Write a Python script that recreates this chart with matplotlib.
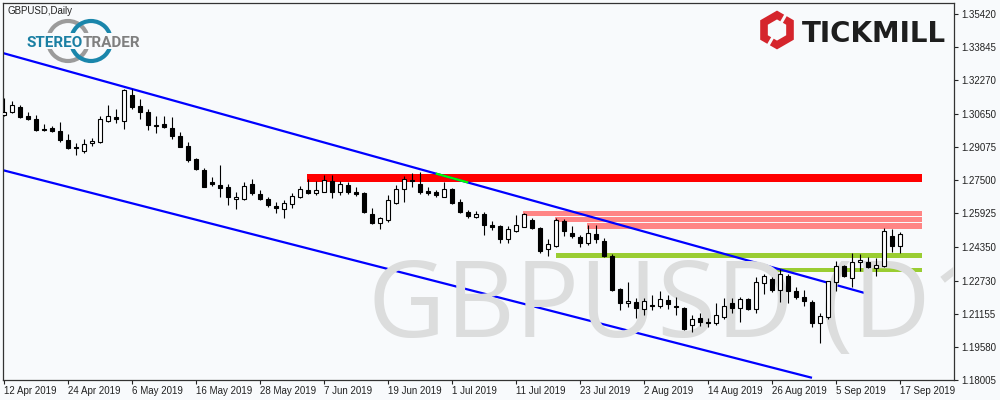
import numpy as np
import pandas as pd
import matplotlib
matplotlib.use('Agg')
import matplotlib.pyplot as plt
from matplotlib.patches import Circle, Rectangle

# Daily bars, 12 Apr 2019 .. 17 Sep 2019 (weekdays)
dates = pd.bdate_range('2019-04-12', '2019-09-17')

opens = [1.3061, 1.3077, 1.3099, 1.3056, 1.3041, 1.2993, 1.3001, 1.2985, 1.2942, 1.2907,
         1.2891, 1.2928, 1.2931, 1.3034, 1.3052, 1.3031, 1.3156, 1.3104, 1.3077, 1.3014,
         1.3018, 1.2999, 1.2961, 1.2914, 1.2852, 1.2799, 1.2742, 1.2728, 1.2718, 1.2660,
         1.2660, 1.2733, 1.2685, 1.2661, 1.2628, 1.2612, 1.2636, 1.2672, 1.2704, 1.2689,
         1.2696, 1.2747, 1.2693, 1.2728, 1.2696, 1.2689, 1.2590, 1.2545, 1.2561, 1.2641,
         1.2707, 1.2752, 1.2733, 1.2699, 1.2695, 1.2672, 1.2707, 1.2648, 1.2601, 1.2574,
         1.2590, 1.2539, 1.2533, 1.2469, 1.2510, 1.2530, 1.2561, 1.2522, 1.2422, 1.2437,
         1.2557, 1.2498, 1.2479, 1.2450, 1.2493, 1.2461, 1.2390, 1.2233, 1.2165, 1.2171,
         1.2136, 1.2155, 1.2152, 1.2180, 1.2152, 1.2141, 1.2061, 1.2093, 1.2076, 1.2069,
         1.2098, 1.2165, 1.2141, 1.2185, 1.2136, 1.2260, 1.2279, 1.2228, 1.2296, 1.2222,
         1.2195, 1.2169, 1.2072, 1.2100, 1.2266, 1.2342, 1.2284, 1.2360, 1.2363, 1.2331,
         1.2344, 1.2485, 1.2437]
highs = [1.3141, 1.3128, 1.3109, 1.3074, 1.3061, 1.3018, 1.3010, 1.3029, 1.2971, 1.2926,
         1.2948, 1.2950, 1.3056, 1.3109, 1.3088, 1.3184, 1.3184, 1.3136, 1.3088, 1.3056,
         1.3056, 1.3050, 1.2980, 1.2934, 1.2858, 1.2807, 1.2764, 1.2823, 1.2733, 1.2696,
         1.2744, 1.2757, 1.2704, 1.2669, 1.2648, 1.2657, 1.2688, 1.2723, 1.2757, 1.2748,
         1.2776, 1.2776, 1.2748, 1.2744, 1.2717, 1.2693, 1.2617, 1.2577, 1.2680, 1.2728,
         1.2773, 1.2783, 1.2791, 1.2720, 1.2704, 1.2744, 1.2712, 1.2660, 1.2609, 1.2604,
         1.2601, 1.2555, 1.2538, 1.2533, 1.2585, 1.2593, 1.2569, 1.2530, 1.2469, 1.2569,
         1.2565, 1.2533, 1.2490, 1.2538, 1.2538, 1.2474, 1.2399, 1.2239, 1.2268, 1.2189,
         1.2189, 1.2204, 1.2225, 1.2204, 1.2196, 1.2146, 1.2109, 1.2117, 1.2093, 1.2165,
         1.2189, 1.2189, 1.2193, 1.2189, 1.2289, 1.2304, 1.2289, 1.2327, 1.2304, 1.2244,
         1.2228, 1.2180, 1.2120, 1.2271, 1.2366, 1.2347, 1.2403, 1.2399, 1.2387, 1.2379,
         1.2522, 1.2517, 1.2503]
lows = [1.3056, 1.3072, 1.3048, 1.3037, 1.2986, 1.2986, 1.2982, 1.2934, 1.2898, 1.2872,
        1.2882, 1.2914, 1.2928, 1.3029, 1.3022, 1.2996, 1.3088, 1.3044, 1.2990, 1.2974,
        1.2998, 1.2947, 1.2907, 1.2839, 1.2799, 1.2718, 1.2725, 1.2672, 1.2633, 1.2614,
        1.2655, 1.2681, 1.2658, 1.2625, 1.2593, 1.2569, 1.2620, 1.2665, 1.2685, 1.2681,
        1.2693, 1.2665, 1.2681, 1.2687, 1.2677, 1.2593, 1.2542, 1.2517, 1.2553, 1.2638,
        1.2647, 1.2720, 1.2685, 1.2681, 1.2672, 1.2669, 1.2638, 1.2593, 1.2569, 1.2569,
        1.2490, 1.2514, 1.2450, 1.2450, 1.2506, 1.2527, 1.2518, 1.2403, 1.2390, 1.2434,
        1.2487, 1.2474, 1.2431, 1.2442, 1.2450, 1.2387, 1.2225, 1.2133, 1.2149, 1.2093,
        1.2109, 1.2133, 1.2141, 1.2136, 1.2109, 1.2038, 1.2029, 1.2057, 1.2053, 1.2061,
        1.2088, 1.2120, 1.2077, 1.2133, 1.2120, 1.2209, 1.2220, 1.2172, 1.2168, 1.2185,
        1.2152, 1.2053, 1.1974, 1.2088, 1.2225, 1.2288, 1.2244, 1.2318, 1.2331, 1.2296,
        1.2339, 1.2410, 1.2406]
closes = [1.3074, 1.3109, 1.3053, 1.3044, 1.2991, 1.2988, 1.2986, 1.2942, 1.2904, 1.2903,
          1.2922, 1.2937, 1.3041, 1.3055, 1.3041, 1.3179, 1.3101, 1.3077, 1.3012, 1.3007,
          1.3006, 1.2963, 1.2910, 1.2847, 1.2804, 1.2720, 1.2731, 1.2715, 1.2669, 1.2670,
          1.2722, 1.2689, 1.2663, 1.2633, 1.2617, 1.2642, 1.2674, 1.2707, 1.2691, 1.2704,
          1.2750, 1.2695, 1.2734, 1.2696, 1.2684, 1.2601, 1.2545, 1.2571, 1.2655, 1.2707,
          1.2755, 1.2745, 1.2696, 1.2689, 1.2679, 1.2707, 1.2644, 1.2601, 1.2582, 1.2588,
          1.2538, 1.2530, 1.2471, 1.2517, 1.2536, 1.2588, 1.2523, 1.2415, 1.2446, 1.2561,
          1.2510, 1.2485, 1.2450, 1.2498, 1.2469, 1.2390, 1.2228, 1.2165, 1.2176, 1.2144,
          1.2176, 1.2152, 1.2184, 1.2161, 1.2149, 1.2041, 1.2090, 1.2074, 1.2069, 1.2107,
          1.2153, 1.2141, 1.2184, 1.2136, 1.2268, 1.2296, 1.2228, 1.2304, 1.2225, 1.2196,
          1.2177, 1.2072, 1.2104, 1.2269, 1.2342, 1.2295, 1.2360, 1.2371, 1.2339, 1.2346,
          1.2507, 1.2439, 1.2495]

price_ticks = [1.35420, 1.33845, 1.32270, 1.30650, 1.29075, 1.27500,
               1.25925, 1.24350, 1.22730, 1.21155, 1.19580, 1.18005]

# channel lines (bar index, price)
upper_x = [-0.5, 107.75]
upper_y = [1.3360, 1.2212]
lower_x = [-0.5, 101.0]
lower_y = [1.2802, 1.1810]
green_x = [54.1, 57.9]
green_y = [1.2781, 1.2741]

# horizontal zones: start bar, end bar, low, high
zone_start = [37.9, 64.9, 68.9, 72.9, 69.0, 95.5]
zone_end = [114.75] * 6
zone_lo = [1.2744, 1.2582, 1.2553, 1.2520, 1.2382, 1.2315]
zone_hi = [1.2780, 1.2604, 1.2577, 1.2546, 1.2406, 1.2331]
zone_col = ['#FF0000', '#FF8585', '#FF8585', '#FF8585', '#9ACD32', '#9ACD32']

bg = '#F8FAFC'
fig = plt.figure(figsize=(10, 4), dpi=100, facecolor=bg)
ax = fig.add_axes([0.0025, 0.05, 0.9515, 0.9425], facecolor=bg)

x = np.arange(len(opens))
o = np.array(opens); h = np.array(highs); l = np.array(lows); c = np.array(closes)

for s, e, lo, hi, col in zip(zone_start, zone_end, zone_lo, zone_hi, zone_col):
    ax.fill_between([s, e], lo, hi, color=col, linewidth=0, zorder=1)

ax.plot(upper_x, upper_y, color='#0000FF', lw=1.6, zorder=2, solid_capstyle='butt')
ax.plot(lower_x, lower_y, color='#0000FF', lw=1.6, zorder=2, solid_capstyle='butt')
ax.plot(green_x, green_y, color='#00FF00', lw=1.6, zorder=2.1)

# big symbol watermark, cut off by the right edge as in the terminal
ax.text(45.5, 1.2004, 'GBPUSD (D1)', fontsize=77, family=['Open Sans', 'DejaVu Sans'],
        color='#DCDDDD', ha='left', va='baseline', zorder=3, clip_on=True)

ax.vlines(x, l, h, color='black', lw=0.8, zorder=4)
up = c >= o
ax.bar(x, np.abs(c - o), bottom=np.minimum(o, c), width=0.62,
       color=np.where(up, 'white', 'black'), edgecolor='black', lw=0.8, zorder=5)

ax.set_xlim(-0.1875, 118.75)
ax.set_ylim(1.17995, 1.35944)

ax.yaxis.tick_right()
ax.set_yticks(price_ticks)
ax.set_yticklabels([f'{p:.5f}' for p in price_ticks])
tick_idx = list(range(0, len(dates), 8))
ax.set_xticks(tick_idx)
ax.set_xticklabels([f'{dates[i].day} {dates[i]:%b %Y}' for i in tick_idx], ha='left')
ax.tick_params(axis='both', direction='out', length=3, width=0.8, colors='#222222',
               labelsize=7)
ax.tick_params(axis='y', pad=2)
ax.tick_params(axis='x', pad=1)
for lab in ax.get_xticklabels() + ax.get_yticklabels():
    lab.set_family('Liberation Sans')
for sp in ax.spines.values():
    sp.set_color('#333333')
    sp.set_linewidth(0.9)

# overlay in pixel coordinates for title and logos
ov = fig.add_axes([0, 0, 1, 1])
ov.set_xlim(0, 1000)
ov.set_ylim(400, 0)
ov.axis('off')

ov.text(7, 11, 'GBPUSD,Daily', fontsize=7, family='Liberation Sans', color='#222222',
        va='center', ha='left')

# StereoTrader logo
ov.add_patch(Circle((68, 41), 20, fill=False, lw=3, ec='#9B9B9B'))
ov.add_patch(Circle((91, 41), 20, fill=False, lw=3, ec='#1A86AB'))
ov.add_patch(Rectangle((26, 33), 113, 16, fc=bg, ec='none'))
ov.text(83, 47, 'STEREO', fontsize=11, weight='bold', color='#1A7FA3', ha='right',
        va='baseline', family=['Roboto', 'DejaVu Sans'])
ov.text(83, 47, 'TRADER', fontsize=11, weight='bold', color='#7F7F7F', ha='left',
        va='baseline', family=['Roboto', 'DejaVu Sans'])

# Tickmill logo
cx, cy, r = 777, 30, 15
ang = np.deg2rad([90, 30, -30, -90, -150, 150, 90])
hx = cx + r * np.cos(ang)
hy = cy - r * np.sin(ang)

def seg(a, b, t):
    return a + (b - a) * t

p1x = [seg(hx[0], hx[1], 0.6), hx[1], hx[2], hx[3], seg(hx[3], hx[4], 0.4)]
p1y = [seg(hy[0], hy[1], 0.6), hy[1], hy[2], hy[3], seg(hy[3], hy[4], 0.4)]
p2x = [seg(hx[3], hx[4], 0.6), hx[4], hx[5], hx[6], seg(hx[0], hx[1], 0.4)]
p2y = [seg(hy[3], hy[4], 0.6), hy[4], hy[5], hy[6], seg(hy[0], hy[1], 0.4)]
ov.plot(p1x, p1y, color='#D5252C', lw=5.5, solid_joinstyle='miter', solid_capstyle='butt')
ov.plot(p2x, p2y, color='#D5252C', lw=5.5, solid_joinstyle='miter', solid_capstyle='butt')
ov.text(802, 42, 'TICKMILL', fontsize=20, weight='bold', family='DejaVu Sans',
        color='#1E1E1E', ha='left', va='baseline')

fig.savefig('out.png', dpi=100, facecolor=bg)
